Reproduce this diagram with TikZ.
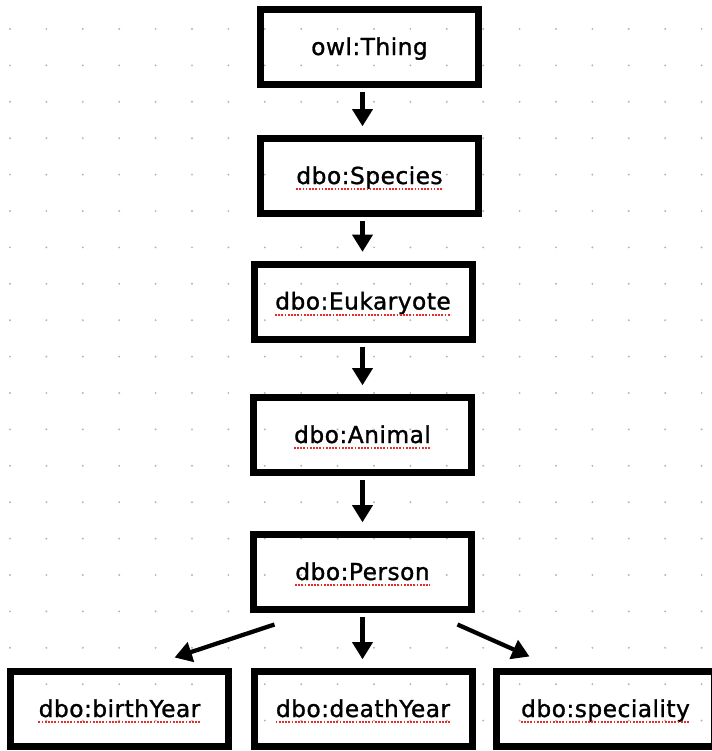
\documentclass[tikz,border=0pt]{standalone}
\usepackage{fontspec}
\setmainfont{DejaVu Sans}[LetterSpace=2, FakeBold=1.2]
\usetikzlibrary{arrows.meta}
\definecolor{dotgray}{HTML}{B4B4B4}
\definecolor{typored}{HTML}{E52B2B}

\newcommand{\typo}[1]{ % #1: word with spell-check underline
    \begin{tikzpicture}[baseline=(word.base)]
        \node[draw=none, inner sep=0pt, minimum width=0pt, minimum height=0pt] (word) {#1};
        \draw[typored, line width=1.4pt, dash pattern=on 1.3pt off 1.1pt] ([yshift=-3.8pt]word.base west) -- ([yshift=-3.8pt]word.base east);
    \end{tikzpicture}%
}

\begin{document}
\begin{tikzpicture}[
    x=0.75pt, y=-0.75pt,
    class box/.style={draw, line width=5.25pt, minimum width=163.5pt, minimum height=56.25pt,
        inner sep=0pt, text height=12pt, text depth=0pt, font=\fontsize{17.5}{19}\selectfont},
    line style/.style={line width=3.2pt, -{Triangle[length=13pt, width=15pt]}}
]
    \useasboundingbox (0,0) rectangle (712,751);
    \clip (0,0) rectangle (712,751);

    % Dot grid in the background
    \foreach \i in {0,...,19} {
        \foreach \j in {0,...,19} {
            \fill[dotgray] (10+36.4*\i, 29+36.4*\j) circle (0.8pt);
        }
    }

    % Class boxes
    \node[class box] (thing) at (369.5,47) {owl:Thing};
    \node[class box] (species) at (369.5,176) {\typo{dbo:Species}};
    \node[class box] (eukaryote) at (363,301.5) {\typo{dbo:Eukaryote}};
    \node[class box] (animal) at (362.5,435) {\typo{dbo:Animal}};
    \node[class box] (person) at (362.5,572) {\typo{dbo:Person}};
    \node[class box] (birth) at (119.5,709) {\typo{dbo:birthYear}};
    \node[class box] (death) at (363,709) {\typo{dbo:deathYear}};
    \node[class box] (speciality) at (605.5,709) {\typo{dbo:speciality}};

    % Draw subclass arrows down the chain
    \foreach \a/\b in {thing/species, species/eukaryote, eukaryote/animal, animal/person, person/death} {
        \draw[line style, shorten <=3pt, shorten >=6.5pt] (\a.south -| person) -- (\b.north -| person);
    }

    % Draw the side arrows to the properties
    \draw[line style] ([shift={(24.5,11.5)}]person.south west) -- ([shift={(-57.5,-10.5)}]birth.north east);
    \draw[line style] ([shift={(-17.5,11.5)}]person.south east) -- ([shift={(36.5,-11.5)}]speciality.north west);

\end{tikzpicture}
\end{document}
